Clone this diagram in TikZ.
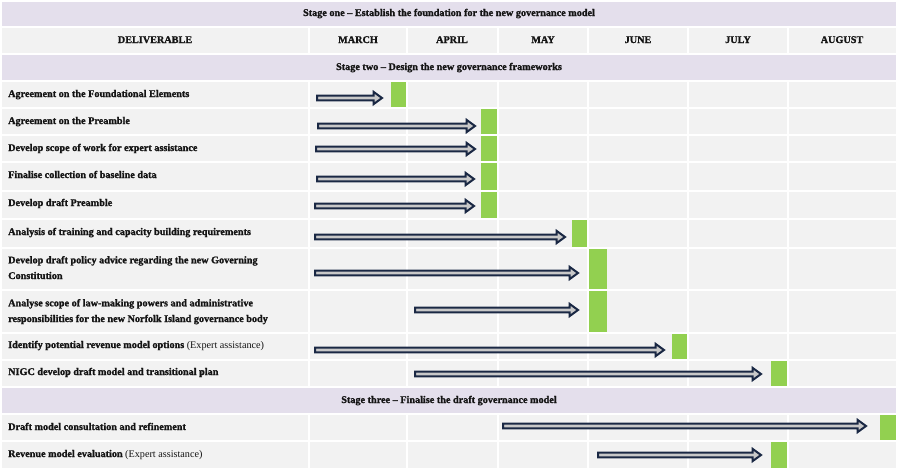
\documentclass[tikz,border=0pt]{standalone}
\usepackage{fontspec}
\setmainfont{Liberation Serif}[BoldFont={Liberation Serif Bold}, BoldFeatures={FakeBold=1.4}]
\usetikzlibrary{calc}
\definecolor{cellgray}{HTML}{F2F2F2}
\definecolor{stagefill}{HTML}{E4DFEC}
\definecolor{navy}{HTML}{1A2844}
\definecolor{shaftfill}{HTML}{C8C8C8}
\definecolor{mile}{HTML}{92D050}
\definecolor{ink}{HTML}{141414}
\newcommand\barr[2]{\path[barrow] let \p1=(#1), \p2=(#2) in
  (\x1,\y1+2.4pt) -- (\x2-8.5pt,\y1+2.4pt) -- (\x2-8.5pt,\y1+6.2pt) -- (\x2,\y1)
  -- (\x2-8.5pt,\y1-6.2pt) -- (\x2-8.5pt,\y1-2.4pt) -- (\x1,\y1-2.4pt) -- cycle;}
\begin{document}
\begin{tikzpicture}[x=1pt,y=-1pt,
  cell/.style={fill=cellgray},
  stagecell/.style={fill=stagefill},
  milestone/.style={fill=mile},
  lbl/.style={anchor=base west, inner sep=0pt, font=\fontsize{10.2}{15.7}\selectfont\bfseries, text=ink, align=left},
  hdr/.style={anchor=base, inner sep=0pt, font=\fontsize{10.2}{12}\selectfont\bfseries, text=ink},
  barrow/.style={draw=navy, fill=shaftfill, line width=2pt, line join=miter}]
\useasboundingbox (0,0) rectangle (900,472);
\fill[white] (0,0) rectangle (900,472);
% stage rows
\foreach \t/\b in {2/26, 55/80, 388/413}
  \fill[stagecell] (2,\t) rectangle (896,\b);
% grid cells
\foreach \t/\b in {28/53, 82/107, 109/134, 136/161, 163/190, 192/218, 220/247, 249/289, 291/332, 334/359, 361/386, 415/440, 442/468}
  \foreach \l/\r in {2/308, 310/406, 408/497, 499/587, 589/687, 689/787, 789/896}
    \fill[cell] (\l,\t) rectangle (\r,\b);
% stage titles
\node[hdr] (st1) at (449,16) {Stage one – Establish the foundation for the new governance model};
\node[hdr] (st2) at (449,70) {Stage two – Design the new governance frameworks};
\node[hdr] (st3) at (449,403) {Stage three – Finalise the draft governance model};
% header
\node[hdr] (h0) at (155,43) {DELIVERABLE};
\node[hdr] (h1) at (358,43) {MARCH};
\node[hdr] (h2) at (452,43) {APRIL};
\node[hdr] (h3) at (543,43) {MAY};
\node[hdr] (h4) at (638,43) {JUNE};
\node[hdr] (h5) at (738,43) {JULY};
\node[hdr] (h6) at (842,43) {AUGUST};
% deliverables
\node[lbl] (l1) at (8,97) {Agreement on the Foundational Elements};
\node[lbl] (l2) at (8,124) {Agreement on the Preamble};
\node[lbl] (l3) at (8,151) {Develop scope of work for expert assistance};
\node[lbl] (l4) at (8,178) {Finalise collection of baseline data};
\node[lbl] (l5) at (8,206) {Develop draft Preamble};
\node[lbl] (l6) at (8,235) {Analysis of training and capacity building requirements};
\node[lbl] (l7) at (8,279) {Develop draft policy advice regarding the new Governing\\Constitution};
\node[lbl] (l8) at (8,322) {Analyse scope of law-making powers and administrative\\responsibilities for the new Norfolk Island governance body};
\node[lbl] (l9) at (8,348) {Identify potential revenue model options {\mdseries (Expert assistance)}};
\node[lbl] (l10) at (8,375) {NIGC develop draft model and transitional plan};
\node[lbl] (l11) at (8,430) {Draft model consultation and refinement};
\node[lbl] (l12) at (8,457) {Revenue model evaluation {\mdseries (Expert assistance)}};
% milestones
\fill[milestone] (391,82) rectangle (406,107);
\foreach \t/\b in {109/134, 136/161, 163/190, 192/218}
  \fill[milestone] (481,\t) rectangle (497,\b);
\fill[milestone] (572,220) rectangle (587,247);
\fill[milestone] (589,249) rectangle (607,289);
\fill[milestone] (589,291) rectangle (607,332);
\fill[milestone] (672,334) rectangle (687,359);
\fill[milestone] (771,361) rectangle (787,386);
\fill[milestone] (880,415) rectangle (896,440);
\fill[milestone] (771,442) rectangle (787,468);
% arrow endpoints
\coordinate (s1) at (317,98);  \coordinate (t1) at (382,98);
\coordinate (s2) at (318,126); \coordinate (t2) at (475,126);
\coordinate (s3) at (316,149); \coordinate (t3) at (475,149);
\coordinate (s4) at (317,179); \coordinate (t4) at (474,179);
\coordinate (s5) at (315,206); \coordinate (t5) at (474,206);
\coordinate (s6) at (315,237); \coordinate (t6) at (565,237);
\coordinate (s7) at (315,273); \coordinate (t7) at (578,273);
\coordinate (s8) at (415,310); \coordinate (t8) at (578,310);
\coordinate (s9) at (315,350); \coordinate (t9) at (664,350);
\coordinate (s10) at (415,374); \coordinate (t10) at (761,374);
\coordinate (s11) at (503,426); \coordinate (t11) at (866,426);
\coordinate (s12) at (598,455); \coordinate (t12) at (761,455);
\foreach \i in {1,...,12} { \barr{s\i}{t\i} }
\end{tikzpicture}
\end{document}
